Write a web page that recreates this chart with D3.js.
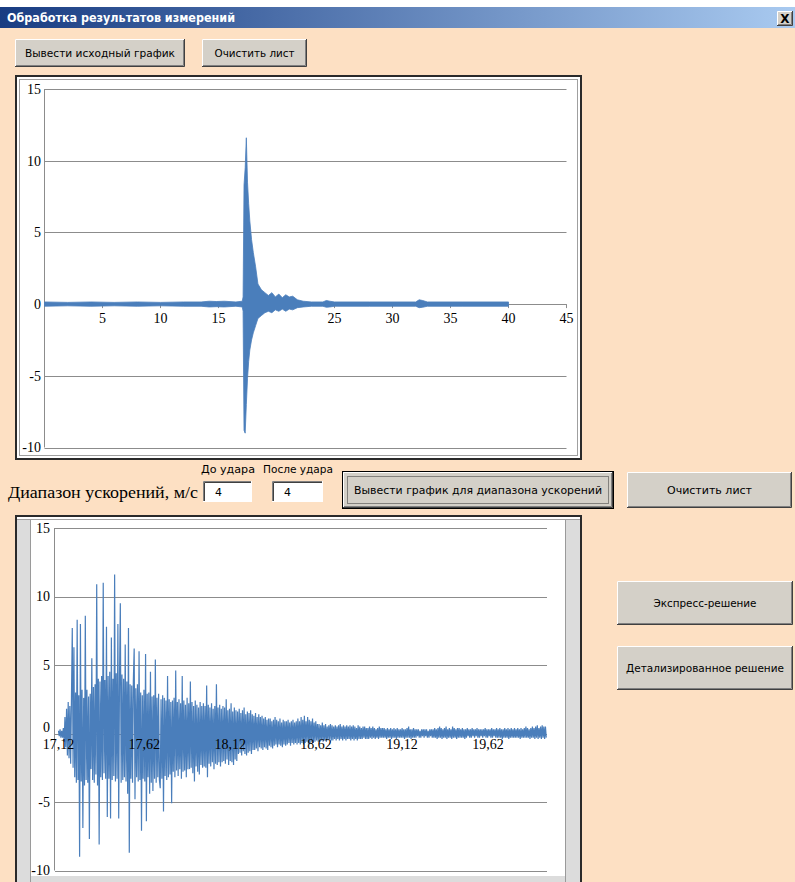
<!DOCTYPE html>
<html lang="ru">
<head>
<meta charset="UTF-8">
<title>Обработка результатов измерений</title>
<script src="https://d3js.org/d3.v7.min.js"></script>
<style>
  body { margin: 0; background: #fde0c3; }
  svg { display: block; }
</style>
</head>
<body>
<svg id="win" width="795" height="882"></svg>
<script>
// ---- данные: исходный график (огибающая сигнала по времени, с) ----
const overviewTime = [0, 2, 4, 6, 8, 10, 12, 13.5, 14.2, 14.8, 15.5, 16.5, 17.05, 17.12, 17.2, 17.3, 17.4, 17.5, 17.6, 17.7, 17.85, 18.0, 18.2, 18.4, 18.7, 19.0, 19.3, 19.6, 19.9, 20.2, 20.5, 20.8, 21.1, 21.4, 21.8, 22.3, 23, 24, 24.3, 24.6, 25, 28, 32, 32.3, 32.6, 33, 36, 40];
const overviewMax  = [0.15, 0.12, 0.15, 0.12, 0.15, 0.12, 0.15, 0.15, 0.2, 0.18, 0.2, 0.15, 0.2, 0.5, 8.3, 9.5, 11.6, 8.5, 7.0, 5.8, 4.5, 3.6, 2.6, 1.4, 1.0, 0.8, 0.6, 0.8, 0.5, 0.7, 0.45, 0.65, 0.5, 0.55, 0.3, 0.2, 0.15, 0.15, 0.25, 0.2, 0.15, 0.15, 0.15, 0.3, 0.25, 0.15, 0.15, 0.15];
const overviewMin  = [-0.15, -0.12, -0.15, -0.12, -0.15, -0.12, -0.15, -0.15, -0.2, -0.18, -0.2, -0.15, -0.2, -0.5, -8.8, -9.0, -7.0, -5.2, -4.0, -3.2, -2.5, -2.0, -1.5, -1.0, -0.8, -0.6, -0.5, -0.6, -0.4, -0.5, -0.35, -0.5, -0.35, -0.4, -0.25, -0.2, -0.15, -0.15, -0.22, -0.2, -0.15, -0.15, -0.15, -0.25, -0.22, -0.15, -0.15, -0.15];
const overviewXTicks = [5, 10, 15, 25, 30, 35, 40, 45];
const yTicks = [-10, -5, 0, 5, 10, 15];

// ---- данные: график для диапазона ускорений (м/с) ----
const detailStart = 17.12;    // с
const detailStep = 0.004741;  // шаг дискретизации, с
const detailValues = [
  0.2, -0.2, 0.3, -0.3, 0.2, -0.3, 0.4, -0.6, 1.2, -1.0, 1.8, -1.6, 2.3, -1.8, 2.0, -2.2, 2.6, 7.7, -2.5, 6.3,
  -3.2, 3.0, -3.6, 8.3, -3.4, 2.8, -9.0, 8.0, -3.5, 3.2, -6.9, 2.6, -3.8, 8.6, -3.4, 3.2, -3.6, 2.7, -7.7, 2.9,
  -2.6, 5.5, -3.4, 3.4, -3.6, 3.6, -3.0, 10.9, -3.8, 4.0, -8.1, 3.8, -3.2, 4.2, -3.4, 11.0, -2.9, 3.9, -3.3, 7.8,
  -6.1, 4.2, -3.3, 4.5, -6.2, 7.0, -3.4, 4.0, -3.1, 11.6, -3.5, 4.4, -3.3, 8.0, -6.2, 4.1, 9.5, -3.6, 4.3, -3.4,
  4.0, -3.2, 6.5, -3.5, 3.8, -4.4, 7.7, -8.7, 3.6, -3.3, 3.5, -3.6, 3.9, 6.2, -4.8, 3.3, -3.2, 3.6, -3.5, 6.0,
  -3.4, 3.0, -7.1, 2.8, -3.3, 3.2, -3.5, 5.8, -6.4, 2.9, -3.2, 3.0, -4.4, 4.5, -3.6, 2.7, -4.2, 2.8, -3.3, 5.4,
  -3.6, 2.6, -3.2, 2.9, -3.4, -4.0, 2.5, -3.3, 2.8, -5.7, 2.6, -3.1, 2.4, -3.4, 4.2, -3.2, 2.5, -3.0, 2.3, -5.1,
  2.4, -2.8, 2.6, -3.2, 4.6, -2.7, 2.3, -3.1, 2.5, -2.6, 2.2, -3.3, 4.2, -2.8, 2.4, -2.7, 2.1, -3.2, 2.6, -2.6,
  2.2, -2.6, 3.8, -2.5, 2.3, -2.9, 2.0, -3.5, 2.4, -2.4, 2.1, -2.8, 1.9, -3.0, 2.3, -2.3, 2.0, -2.5, 2.2, -2.4,
  2.0, -2.5, 3.5, -3.2, 2.1, -2.2, 1.9, -2.4, 2.2, -2.1, 1.8, -2.6, 2.0, -2.2, 3.6, -2.3, 1.9, -2.1, 2.1, -2.4,
  1.8, -2.1, 2.0, -2.0, 1.9, -2.2, 2.5, -1.9, 1.7, -2.3, 1.8, -2.0, 2.2, -2.1, 1.6, -2.3, 1.9, -1.9, 1.7, -2.0,
  1.6, -1.5, 1.8, -1.4, 1.5, -1.6, 1.7, -1.3, 1.9, -1.5, 1.4, -1.6, 1.6, -1.4, 1.5, -1.3, 1.7, -1.5, 1.4, -1.2,
  1.3, -1.2, 1.5, -1.1, 1.2, -1.3, 1.4, -1.0, 1.2, -1.1, 1.3, -1.2, 1.1, -1.0, 1.2, -1.1, 1.0, -1.2, 1.1, -0.9,
  1.1, -1.0, 0.9, -1.1, 1.0, -0.9, 1.2, -0.8, 1.0, -1.0, 0.9, -0.8, 1.1, -0.9, 0.8, -1.0, 1.0, -0.8, 0.9, -0.9,
  0.9, -0.8, 1.0, -0.7, 0.8, -0.9, 0.9, -0.7, 1.0, -0.8, 0.8, -0.7, 0.9, -0.8, 1.1, -0.7, 0.9, -0.8, 1.2, -0.7,
  1.0, -0.8, 1.3, -0.7, 0.9, -0.6, 1.2, -0.8, 1.0, -0.7, 0.9, -0.6, 1.1, -0.7, 0.8, -0.6, 0.9, -0.5, 0.7, -0.6,
  0.7, -0.6, 0.6, -0.5, 0.8, -0.6, 0.6, -0.5, 0.7, -0.6, 0.5, -0.5, 0.6, -0.4, 0.7, -0.5, 0.6, -0.5, 0.5, -0.4,
  0.6, -0.5, 0.5, -0.4, 0.6, -0.5, 0.7, -0.4, 0.5, -0.5, 0.6, -0.4, 0.5, -0.5, 0.6, -0.4, 0.5, -0.4, 0.6, -0.5,
  0.5, -0.4, 0.6, -0.5, 0.5, -0.4, 0.4, -0.5, 0.6, -0.4, 0.5, -0.4, 0.4, -0.4, 0.5, -0.3, 0.5, -0.4, 0.4, -0.4,
  0.4, -0.4, 0.5, -0.3, 0.4, -0.4, 0.5, -0.3, 0.4, -0.4, 0.3, -0.3, 0.4, -0.4, 0.5, -0.3, 0.4, -0.3, 0.4, -0.3,
  0.4, -0.3, 0.3, -0.4, 0.4, -0.3, 0.3, -0.3, 0.4, -0.4, 0.3, -0.3, 0.4, -0.3, 0.3, -0.4, 0.4, -0.3, 0.3, -0.3,
  0.3, -0.3, 0.4, -0.3, 0.3, -0.4, 0.3, -0.3, 0.4, -0.3, 0.5, -0.3, 0.3, -0.4, 0.3, -0.3, 0.4, -0.3, 0.3, -0.3,
  0.3, -0.2, 0.3, -0.3, 0.2, -0.3, 0.3, -0.2, 0.3, -0.3, 0.3, -0.2, 0.3, -0.3, 0.2, -0.3, 0.3, -0.2, 0.3, -0.3,
  0.3, -0.3, 0.4, -0.3, 0.3, -0.4, 0.4, -0.3, 0.5, -0.3, 0.4, -0.4, 0.3, -0.3, 0.4, -0.3, 0.5, -0.4, 0.3, -0.3,
  0.4, -0.3, 0.3, -0.4, 0.5, -0.3, 0.4, -0.3, 0.3, -0.4, 0.4, -0.3, 0.4, -0.3, 0.3, -0.3, 0.4, -0.3, 0.3, -0.4,
  0.3, -0.3, 0.4, -0.2, 0.3, -0.3, 0.3, -0.3, 0.4, -0.2, 0.3, -0.3, 0.3, -0.2, 0.4, -0.3, 0.3, -0.3, 0.3, -0.2,
  0.3, -0.3, 0.3, -0.2, 0.4, -0.3, 0.3, -0.3, 0.3, -0.2, 0.3, -0.3, 0.4, -0.3, 0.3, -0.2, 0.3, -0.3, 0.4, -0.3,
  0.3, -0.3, 0.4, -0.3, 0.3, -0.4, 0.3, -0.3, 0.4, -0.3, 0.3, -0.3, 0.4, -0.4, 0.3, -0.3, 0.4, -0.3, 0.3, -0.3,
  0.4, -0.3, 0.3, -0.3, 0.4, -0.3, 0.3, -0.4, 0.4, -0.3, 0.3, -0.3, 0.4, -0.3, 0.5, -0.3, 0.4, -0.3, 0.3, -0.4,
  0.4, -0.3, 0.5, -0.3, 0.4, -0.4, 0.5, -0.3, 0.6, -0.4, 0.4, -0.3, 0.5, -0.4, 0.6, -0.3, 0.5, -0.4, 0.5, -0.3
];
const detailXTicks = [17.12, 17.62, 18.12, 18.62, 19.12, 19.62];

const lineColor = "#4a7ebb";
const gridColor = "#8c8c8c";
const face = "#d4d0c8";
const uiFont = "'DejaVu Sans', sans-serif";
const serif = "'Liberation Serif', 'DejaVu Serif', serif";

const svg = d3.select("#win");

// фон окна
svg.append("rect").attr("width", 795).attr("height", 882).attr("fill", "#fde0c3");
svg.append("rect").attr("width", 795).attr("height", 7).attr("fill", "#ffffff");

// заголовок окна
const grad = svg.append("defs").append("linearGradient").attr("id", "titleGrad");
grad.append("stop").attr("offset", "0%").attr("stop-color", "#183c82");
grad.append("stop").attr("offset", "100%").attr("stop-color", "#a9caf0");
svg.append("rect").attr("x", 0).attr("y", 7).attr("width", 795).attr("height", 21).attr("fill", "url(#titleGrad)");
svg.append("text").attr("x", 7).attr("y", 22)
  .attr("font-family", uiFont).attr("font-weight", "bold").attr("font-size", 12)
  .attr("fill", "#fff").attr("textLength", 228).attr("lengthAdjust", "spacingAndGlyphs")
  .text("Обработка результатов измерений");

// кнопки в стиле Windows
function button(x, y, w, h, label, textW, isDefault) {
  const g = svg.append("g");
  g.append("rect").attr("x", x).attr("y", y).attr("width", w).attr("height", h).attr("fill", face);
  g.append("path").attr("d", `M${x + 0.5},${y + h - 1} V${y + 0.5} H${x + w - 1}`)
    .attr("stroke", "#fff").attr("fill", "none");
  g.append("path").attr("d", `M${x + 1},${y + h - 1.5} H${x + w - 1.5} V${y + 1}`)
    .attr("stroke", "#808080").attr("fill", "none");
  g.append("path").attr("d", `M${x},${y + h - 0.5} H${x + w - 0.5} V${y}`)
    .attr("stroke", "#404040").attr("fill", "none");
  if (isDefault) {
    g.append("rect").attr("x", x - 0.5).attr("y", y - 0.5).attr("width", w + 1).attr("height", h + 1)
      .attr("fill", "none").attr("stroke", "#000");
    g.append("rect").attr("x", x + 4.5).attr("y", y + 4.5).attr("width", w - 9).attr("height", h - 9)
      .attr("fill", "none").attr("stroke", "#333").attr("stroke-dasharray", "1,1");
  }
  if (label) {
    g.append("text").attr("x", x + w / 2).attr("y", y + h / 2 + 4)
      .attr("text-anchor", "middle").attr("font-family", uiFont).attr("font-size", 11)
      .attr("fill", "#000").attr("textLength", textW).attr("lengthAdjust", "spacingAndGlyphs")
      .text(label);
  }
}

// кнопка закрытия
button(777, 11, 16, 15, "", 0, false);
svg.append("text").attr("x", 785).attr("y", 23).attr("text-anchor", "middle")
  .attr("font-family", uiFont).attr("font-weight", "bold").attr("font-size", 12).text("X");

button(15, 39, 170, 28, "Вывести исходный график", 150, false);
button(202, 39, 105, 28, "Очистить лист", 80, false);

// рамка графика
function chartFrame(x, y, w, h) {
  svg.append("rect").attr("x", x).attr("y", y).attr("width", w).attr("height", h)
    .attr("fill", "#fff").attr("stroke", "#2a2a2a").attr("stroke-width", 2);
  svg.append("rect").attr("x", x + 3.5).attr("y", y + 3.5).attr("width", w - 7).attr("height", h - 7)
    .attr("fill", "none").attr("stroke", "#a0a0a0");
}

// ===== исходный график =====
chartFrame(16, 76, 565, 383);
const xTop = d3.scaleLinear().domain([0, 45]).range([44.5, 566.5]);
const yTop = d3.scaleLinear().domain([-10, 15]).range([447.5, 89]);

const topChart = svg.append("g");
topChart.selectAll("line.grid").data(yTicks).join("line")
  .attr("x1", xTop(0)).attr("x2", xTop(45))
  .attr("y1", d => Math.round(yTop(d)) + 0.5).attr("y2", d => Math.round(yTop(d)) + 0.5)
  .attr("stroke", gridColor);
topChart.append("line").attr("x1", xTop(0)).attr("x2", xTop(0))
  .attr("y1", yTop(15)).attr("y2", yTop(-10)).attr("stroke", gridColor);
topChart.selectAll("line.tick").data(overviewXTicks).join("line")
  .attr("x1", d => xTop(d)).attr("x2", d => xTop(d))
  .attr("y1", yTop(0)).attr("y2", yTop(0) + 4).attr("stroke", gridColor);
topChart.selectAll("text.y").data(yTicks).join("text")
  .attr("x", 41).attr("y", d => yTop(d)).attr("dy", "0.35em").attr("text-anchor", "end")
  .attr("font-family", serif).attr("font-size", 14).text(d => d);
topChart.selectAll("text.x").data(overviewXTicks).join("text")
  .attr("x", d => xTop(d)).attr("y", yTop(0) + 19).attr("text-anchor", "middle")
  .attr("font-family", serif).attr("font-size", 14).text(d => d);

const overview = overviewTime.map((t, i) => ({ t, hi: overviewMax[i], lo: overviewMin[i] }));
topChart.append("path").datum(overview)
  .attr("d", d3.area().x(d => xTop(d.t)).y0(d => yTop(d.lo)).y1(d => yTop(d.hi)))
  .attr("fill", lineColor).attr("stroke", lineColor).attr("stroke-width", 0.8);

// ===== диапазон ускорений =====
svg.append("text").attr("x", 8).attr("y", 498)
  .attr("font-family", serif).attr("font-size", 17).attr("textLength", 190).attr("lengthAdjust", "spacingAndGlyphs")
  .text("Диапазон ускорений, м/с");
svg.append("text").attr("x", 201).attr("y", 473).attr("font-family", uiFont).attr("font-size", 10.5)
  .attr("textLength", 54).attr("lengthAdjust", "spacingAndGlyphs").text("До удара");
svg.append("text").attr("x", 263).attr("y", 473).attr("font-family", uiFont).attr("font-size", 10.5)
  .attr("textLength", 70).attr("lengthAdjust", "spacingAndGlyphs").text("После удара");

function inputBox(x, y, w, h, value) {
  svg.append("rect").attr("x", x).attr("y", y).attr("width", w).attr("height", h).attr("fill", "#fff");
  svg.append("path").attr("d", `M${x + 0.5},${y + h} V${y + 0.5} H${x + w}`).attr("stroke", "#808080").attr("fill", "none");
  svg.append("path").attr("d", `M${x + 1.5},${y + h - 1} V${y + 1.5} H${x + w - 1}`).attr("stroke", "#404040").attr("fill", "none");
  svg.append("path").attr("d", `M${x},${y + h - 0.5} H${x + w - 0.5} V${y}`).attr("stroke", "#fff").attr("fill", "none");
  svg.append("text").attr("x", x + 12).attr("y", y + h / 2 + 4).attr("font-family", uiFont).attr("font-size", 11).text(value);
}
inputBox(203, 481, 49, 21, "4");
inputBox(272, 481, 51, 21, "4");

button(343, 472, 270, 36, "Вывести график для диапазона ускорений", 248, true);
button(627, 472, 165, 36, "Очистить лист", 85, false);
button(617, 581, 176, 44, "Экспресс-решение", 103, false);
button(617, 646, 176, 44, "Детализированное решение", 158, false);

// ===== нижний график =====
svg.append("rect").attr("x", 16).attr("y", 516).attr("width", 565).attr("height", 370)
  .attr("fill", "#fff").attr("stroke", "#2a2a2a").attr("stroke-width", 2);
svg.append("rect").attr("x", 17).attr("y", 519).attr("width", 13).attr("height", 363).attr("fill", "#dcdcdc");
svg.append("line").attr("x1", 30.5).attr("x2", 30.5).attr("y1", 519).attr("y2", 882).attr("stroke", "#9a9a9a");
svg.append("rect").attr("x", 566).attr("y", 519).attr("width", 14).attr("height", 363).attr("fill", "#dcdcdc");
svg.append("line").attr("x1", 565.5).attr("x2", 565.5).attr("y1", 519).attr("y2", 882).attr("stroke", "#9a9a9a");
svg.append("line").attr("x1", 17).attr("x2", 580).attr("y1", 519.5).attr("y2", 519.5).attr("stroke", "#a0a0a0");
svg.append("rect").attr("x", 31).attr("y", 876).attr("width", 534).attr("height", 6).attr("fill", "#dcdcdc");

const xBot = d3.scaleLinear().domain([17.10, 19.97]).range([55, 548]);
const yBot = d3.scaleLinear().domain([-10, 15]).range([870.5, 528]);
const bottomChart = svg.append("g");
bottomChart.selectAll("line.grid").data(yTicks).join("line")
  .attr("x1", xBot(17.10)).attr("x2", 547)
  .attr("y1", d => Math.round(yBot(d)) + 0.5).attr("y2", d => Math.round(yBot(d)) + 0.5)
  .attr("stroke", gridColor);
bottomChart.append("line").attr("x1", xBot(17.10) - 0.5).attr("x2", xBot(17.10) - 0.5)
  .attr("y1", yBot(15)).attr("y2", yBot(-10)).attr("stroke", gridColor);
bottomChart.selectAll("text.y").data(yTicks).join("text")
  .attr("x", 50).attr("y", d => yBot(d) - (d === 0 ? 6 : 0)).attr("dy", "0.35em").attr("text-anchor", "end")
  .attr("font-family", serif).attr("font-size", 14).text(d => d);

const detail = detailValues.map((v, i) => ({ t: detailStart + i * detailStep, v }));
bottomChart.append("path").datum(detail)
  .attr("d", d3.line().x(d => xBot(d.t)).y(d => yBot(d.v)))
  .attr("fill", "none").attr("stroke", lineColor).attr("stroke-width", 1.2).attr("stroke-linejoin", "miter");

bottomChart.selectAll("text.x").data(detailXTicks).join("text")
  .attr("x", d => xBot(d)).attr("y", yBot(0) + 15).attr("text-anchor", "middle")
  .attr("font-family", serif).attr("font-size", 14).text(d => d3.format(".2f")(d).replace(".", ","));
</script>
</body>
</html>
